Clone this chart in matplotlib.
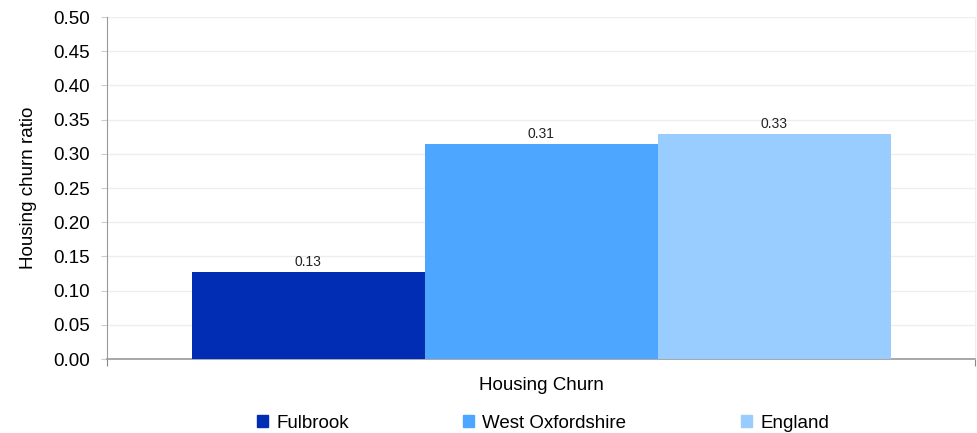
import numpy as np
import matplotlib
matplotlib.use('Agg')
from matplotlib import pyplot as plt
from matplotlib.patches import Patch

plt.rcParams['font.family'] = ['Liberation Sans', 'DejaVu Sans']

series = ['Fulbrook', 'West Oxfordshire', 'England']
values = [0.127, 0.314, 0.329]
labels = ['0.13', '0.31', '0.33']
colors = ['#002db3', '#4da6ff', '#99ccff']
category = 'Housing Churn'

fig = plt.figure(figsize=(9.78, 4.33), dpi=100)
ax = fig.add_axes([0.1094, 0.1709, 0.8876, 0.7898])

w = 233.0 / 868
x0 = 0.5 - 1.5 * w
for i in range(len(series)):
    ax.bar(x0 + (i + 0.5) * w, values[i], width=w, color=colors[i], zorder=3)
    ax.text(x0 + (i + 0.5) * w, values[i] + 0.005, labels[i], ha='center', va='bottom', fontsize=10, color='#222222')

ax.set_xlim(0, 1)
ax.set_ylim(0, 0.5)
ax.set_yticks(np.arange(0, 0.51, 0.05))
ax.set_yticklabels(['%.2f' % v for v in np.arange(0, 0.51, 0.05)], fontsize=13.5)
ax.set_xticks([0, 1])
ax.set_xticklabels(['', ''])
ax.tick_params(axis='x', length=5, color='#888888', direction='out')
ax.tick_params(axis='y', length=4, color='#cccccc', pad=8)
ax.grid(axis='y', color='#eeeeee', lw=1, zorder=0)
ax.spines['top'].set_visible(False)
ax.spines['right'].set_color('#eeeeee')
ax.spines['left'].set_color('#999999')
ax.spines['bottom'].set_color('#999999')
ax.spines['bottom'].set_linewidth(1.2)
ax.set_ylabel('Housing churn ratio', fontsize=13.5)
ax.yaxis.set_label_coords(-0.0805, 0.5)
ax.set_xlabel(category, fontsize=13.5)
ax.xaxis.set_label_coords(0.5, -0.077)
ax.xaxis.label.set_va('center')

# legend entries placed like the original (uneven spacing)
leg_x = [257, 463, 741]
for i in range(len(series)):
    fig.legend(handles=[Patch(color=colors[i])], labels=[series[i]], loc='center left',
               bbox_to_anchor=(leg_x[i] / 978.0, 1 - 423.5 / 433.0), frameon=False,
               fontsize=13.5, handlelength=0.59, handleheight=0.59, handletextpad=0.43,
               borderaxespad=0, borderpad=0)

fig.savefig('out.png', dpi=100)
